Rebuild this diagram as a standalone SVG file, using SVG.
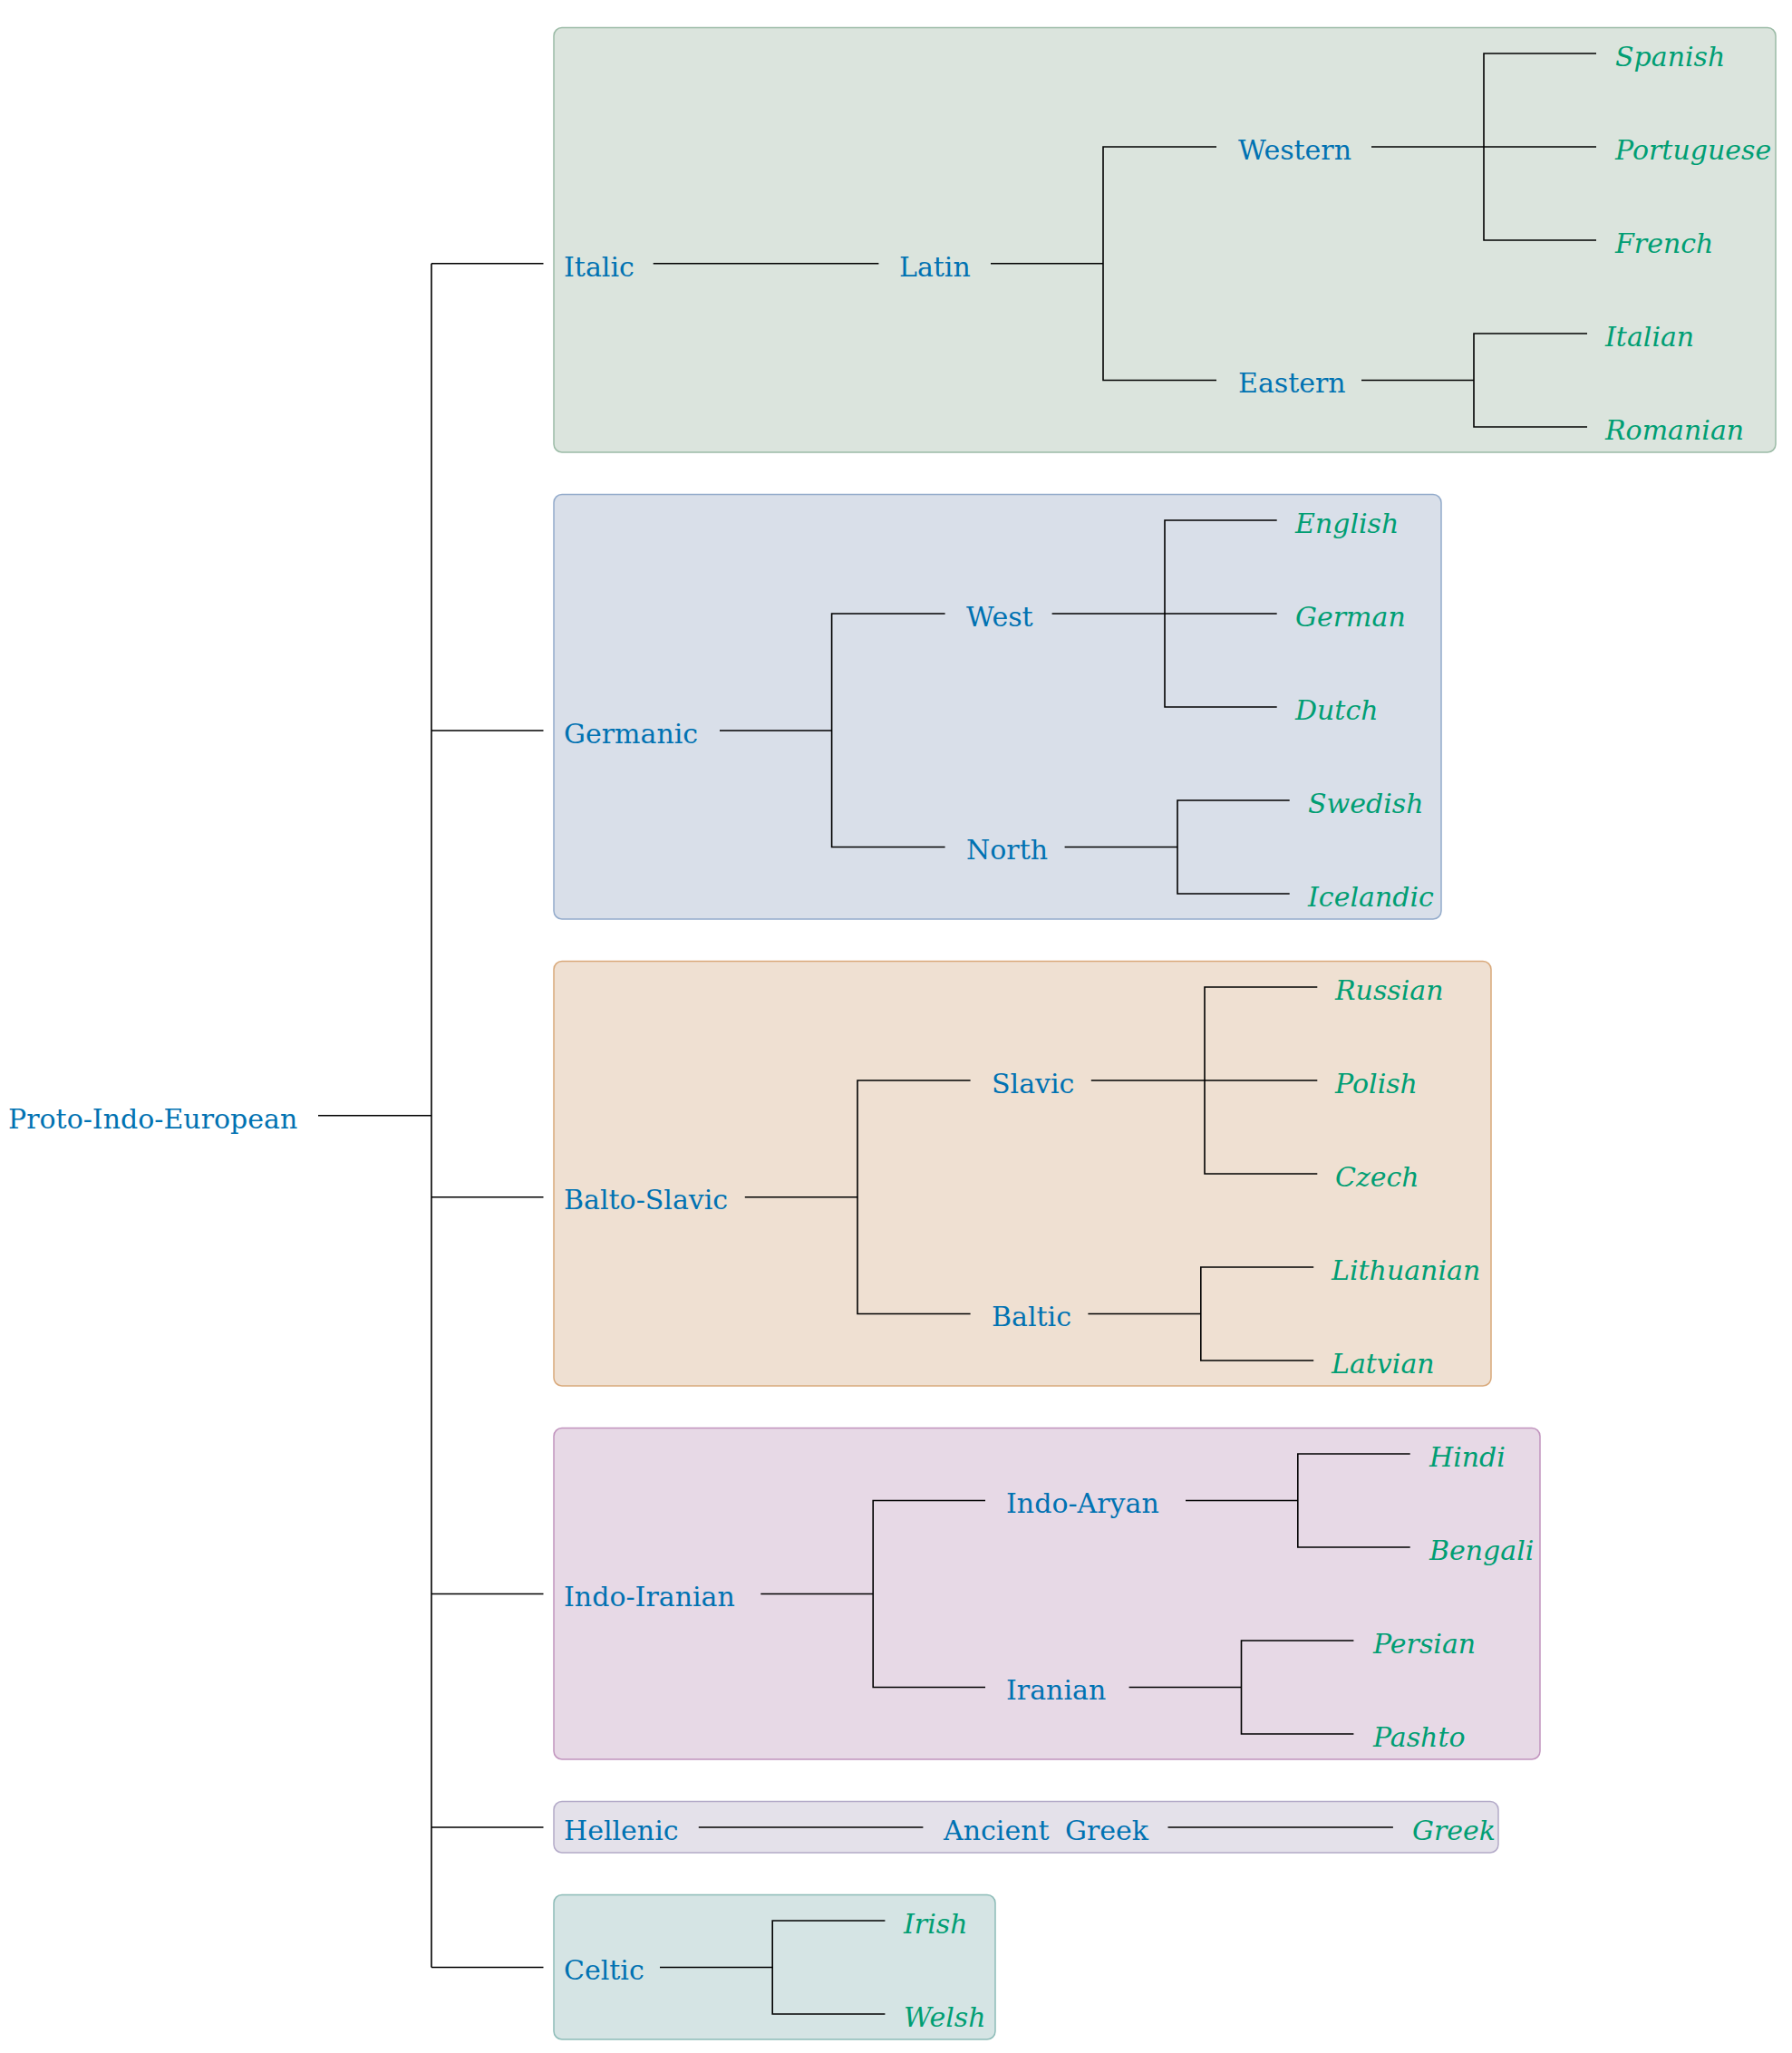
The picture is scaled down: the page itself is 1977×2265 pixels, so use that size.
<svg xmlns="http://www.w3.org/2000/svg" width="1977" height="2265" viewBox="0 0 1977 2265">
<style>
text{font-family:"DejaVu Serif","Liberation Serif",serif;font-size:30px}
.n{fill:#0072B2}
.l{fill:#009E73;font-style:italic}
.c path{fill:none;stroke:#000;stroke-width:1.6}
.box{stroke-width:1.5}
</style>
<rect width="1977" height="2265" fill="#ffffff"/>
<g id="clades">
<rect id="box-italic" class="box" x="611" y="30.5" width="1348" height="468.5" rx="9" fill="#dbe4dd" stroke="#9bbba6"/>
<rect id="box-germanic" class="box" x="611" y="545.5" width="979" height="468.5" rx="9" fill="#d9dfe9" stroke="#93abcb"/>
<rect id="box-baltoslavic" class="box" x="611" y="1060.5" width="1034" height="468.5" rx="9" fill="#efe0d2" stroke="#d9a97b"/>
<rect id="box-indoiranian" class="box" x="611" y="1575.5" width="1088" height="365.5" rx="9" fill="#e7d9e6" stroke="#c194be"/>
<rect id="box-hellenic" class="box" x="611" y="1987.5" width="1042" height="56.5" rx="9" fill="#e4e1ea" stroke="#b3aac8"/>
<rect id="box-celtic" class="box" x="611" y="2090.5" width="487" height="159.5" rx="9" fill="#d5e4e4" stroke="#8dbcb8"/>
</g>
<g id="connectors" class="c">
<path d="M351 1230.7H476M476 290.7V2170.5M476 290.7H599.5M476 806H599.5M476 1320.7H599.5M476 1758.5H599.5M476 2016H599.5M476 2170.5H599.5"/>
<path d="M720.7 290.7H969.4"/>
<path d="M1093 290.7H1217M1342 162H1217V419.5H1342"/>
<path d="M1513 162H1637M1761 59H1637V265H1761M1637 162H1761"/>
<path d="M1502 419.5H1626M1751 368H1626V471H1751"/>
<path d="M794 806H917.6M1042.6 677H917.6V934.5H1042.6"/>
<path d="M1160.6 677H1285M1408.7 574H1285V780H1408.7M1285 677H1408.7"/>
<path d="M1174.6 934.5H1299M1422.7 883H1299V986H1422.7"/>
<path d="M821.8 1320.7H946M1070.6 1192H946V1449.5H1070.6"/>
<path d="M1203.8 1192H1329M1453.3 1089H1329V1295H1453.3M1329 1192H1453.3"/>
<path d="M1200.4 1449.5H1324.8M1449.2 1398H1324.8V1501H1449.2"/>
<path d="M839.3 1758.5H963.2M1087 1655.5H963.2V1861.5H1087"/>
<path d="M1308 1655.5H1431.8M1555.7 1604H1431.8V1707H1555.7"/>
<path d="M1245.6 1861.5H1369.5M1493.4 1810H1369.5V1913H1493.4"/>
<path d="M770.8 2016H1018.4M1288.5 2016H1536.9"/>
<path d="M728 2170.5H852.2M976.4 2119H852.2V2222H976.4"/>
</g>
<g id="n-pie"><text class="n" x="9" y="1244.5">Proto-Indo-European</text></g>
<g id="n-italic"><text class="n" x="622" y="304.5">Italic</text></g>
<g id="n-latin"><text class="n" x="992" y="304.5">Latin</text></g>
<g id="n-western"><text class="n" x="1366" y="175.5">Western</text></g>
<g id="n-eastern"><text class="n" x="1366" y="433">Eastern</text></g>
<g id="n-spanish"><text class="l" x="1782" y="72.5">Spanish</text></g>
<g id="n-portuguese"><text class="l" x="1782" y="175.5">Portuguese</text></g>
<g id="n-french"><text class="l" x="1782" y="278.5">French</text></g>
<g id="n-italian"><text class="l" x="1771" y="381.5">Italian</text></g>
<g id="n-romanian"><text class="l" x="1771" y="484.5">Romanian</text></g>
<g id="n-germanic"><text class="n" x="622" y="819.5">Germanic</text></g>
<g id="n-west"><text class="n" x="1066" y="690.5">West</text></g>
<g id="n-north"><text class="n" x="1066" y="948">North</text></g>
<g id="n-english"><text class="l" x="1429" y="587.5">English</text></g>
<g id="n-german"><text class="l" x="1429" y="690.5">German</text></g>
<g id="n-dutch"><text class="l" x="1429" y="793.5">Dutch</text></g>
<g id="n-swedish"><text class="l" x="1443" y="896.5">Swedish</text></g>
<g id="n-icelandic"><text class="l" x="1443" y="999.5">Icelandic</text></g>
<g id="n-baltoslavic"><text class="n" x="622" y="1334.2">Balto-Slavic</text></g>
<g id="n-slavic"><text class="n" x="1094" y="1205.5">Slavic</text></g>
<g id="n-baltic"><text class="n" x="1094" y="1463">Baltic</text></g>
<g id="n-russian"><text class="l" x="1473" y="1102.5">Russian</text></g>
<g id="n-polish"><text class="l" x="1473" y="1205.5">Polish</text></g>
<g id="n-czech"><text class="l" x="1473" y="1308.5">Czech</text></g>
<g id="n-lithuanian"><text class="l" x="1469" y="1411.5">Lithuanian</text></g>
<g id="n-latvian"><text class="l" x="1469" y="1514.5">Latvian</text></g>
<g id="n-indoiranian"><text class="n" x="622" y="1772">Indo-Iranian</text></g>
<g id="n-indoaryan"><text class="n" x="1110" y="1669">Indo-Aryan</text></g>
<g id="n-iranian"><text class="n" x="1110" y="1875">Iranian</text></g>
<g id="n-hindi"><text class="l" x="1577" y="1617.5">Hindi</text></g>
<g id="n-bengali"><text class="l" x="1577" y="1720.5">Bengali</text></g>
<g id="n-persian"><text class="l" x="1515" y="1823.5">Persian</text></g>
<g id="n-pashto"><text class="l" x="1515" y="1926.5">Pashto</text></g>
<g id="n-hellenic"><text class="n" x="622" y="2029.5">Hellenic</text></g>
<g id="n-ancientgreek"><text class="n" x="1041" y="2029.5" word-spacing="8">Ancient Greek</text></g>
<g id="n-greek"><text class="l" x="1558" y="2029.5">Greek</text></g>
<g id="n-celtic"><text class="n" x="622" y="2184">Celtic</text></g>
<g id="n-irish"><text class="l" x="997" y="2132.5">Irish</text></g>
<g id="n-welsh"><text class="l" x="997" y="2235.5">Welsh</text></g>
</svg>
